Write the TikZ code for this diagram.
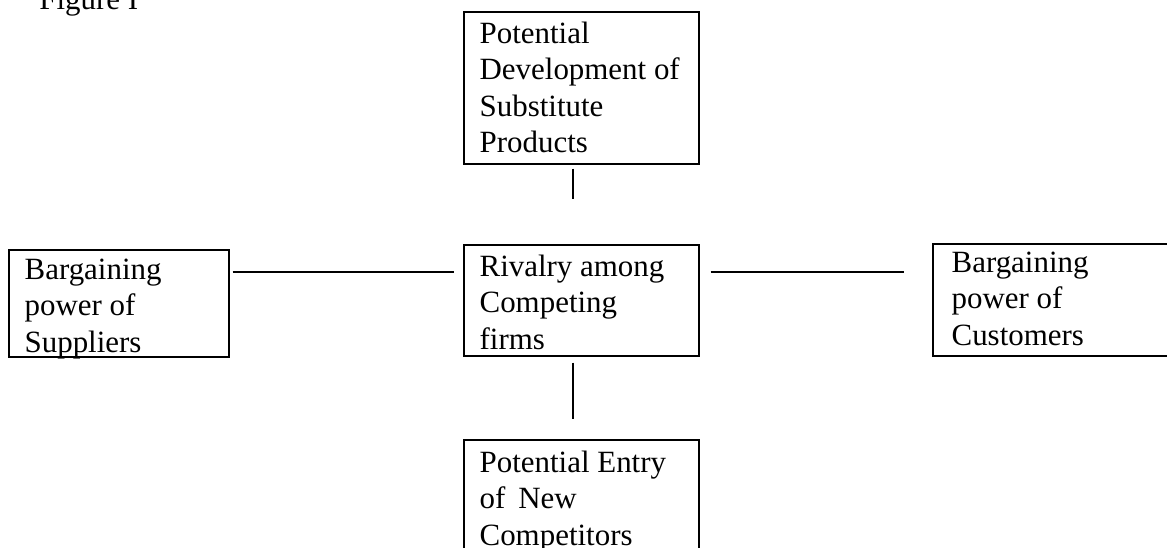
\documentclass[tikz,border=0pt]{standalone}
\usepackage{fontspec}
\setmainfont{Liberation Serif}
\usepackage{tikz}

\begin{document}
\begin{tikzpicture}[x=0.2mm,y=-0.2mm,
	box/.style={draw,line width=.8pt,inner sep=0pt},
	txt/.style={inner sep=0pt,anchor=north west,align=left,font=\fontsize{17.6}{20.8}\selectfont},
	link/.style={line width=.6pt}]
	\useasboundingbox (0,0) rectangle (1167,548);
	\node[txt,anchor=base west] (fig) at (39,10) {Figure I};
	\node[box,minimum width=4.70cm,minimum height=3.04cm] (subst) at (581.5,88) {};
	\node[box,minimum width=4.70cm,minimum height=2.22cm] (rivalry) at (581.5,300.5) {};
	\node[box,minimum width=4.40cm,minimum height=2.14cm] (suppl) at (119,303.5) {};
	\node[box,minimum width=5.14cm,minimum height=2.24cm] (cust) at (1061.5,300) {};
	\node[box,minimum width=4.70cm,minimum height=2.80cm] (entry) at (581.5,510) {};
	\node[txt] (subst-t) at ([shift={(16,10)}]subst.north west) {Potential\\Development of\\Substitute\\Products};
	\node[txt] (rivalry-t) at ([shift={(16,10)}]rivalry.north west) {Rivalry among\\Competing\\firms};
	\node[txt] (suppl-t) at ([shift={(16,9)}]suppl.north west) {Bargaining\\power of\\Suppliers};
	\node[txt] (cust-t) at ([shift={(19,8)}]cust.north west) {Bargaining\\power of\\Customers};
	\node[txt] (entry-t) at ([shift={(16,11)}]entry.north west) {Potential Entry\\of\, New\\Competitors};
	\draw[link] ([shift={(-8.5,4)}]subst.south) -- ([shift={(-8.5,-45)}]rivalry.north);
	\draw[link] ([shift={(-8.5,6)}]rivalry.south) -- ([shift={(-8.5,-20)}]entry.north);
	\draw[link] ([shift={(3,-31.5)}]suppl.east) -- ([shift={(-9,-28.5)}]rivalry.west);
	\draw[link] ([shift={(11,-28.5)}]rivalry.east) -- ([shift={(-28,-28)}]cust.west);
\end{tikzpicture}
\end{document}
